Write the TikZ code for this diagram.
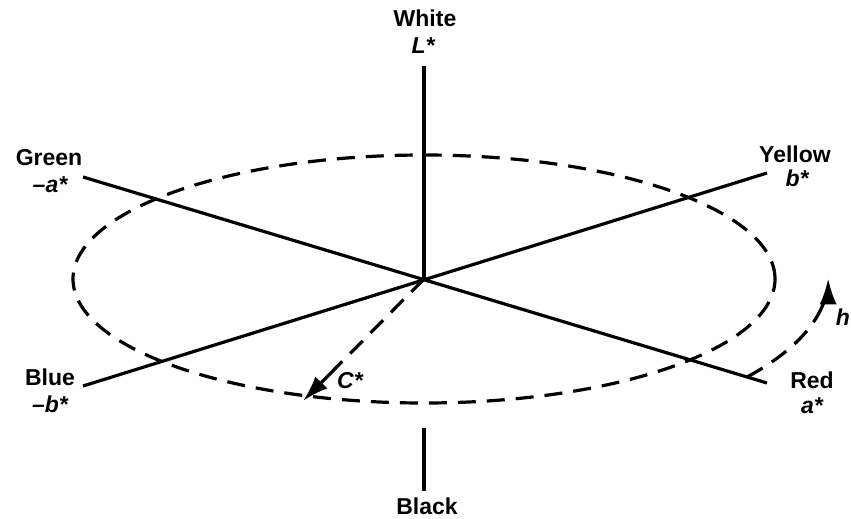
\documentclass[tikz,border=0pt]{standalone}
\usepackage{fontspec}
\setmainfont{Liberation Sans}
\usetikzlibrary{arrows.meta,calc}
\tikzset{
  axis/.style={line width=3.2pt},
  dashline/.style={line width=3.2pt, dash pattern=on 18pt off 11pt},
  lab/.style={font=\fontsize{23}{26}\selectfont\bfseries, inner sep=0pt},
  symb/.style={font=\fontsize{23}{26}\selectfont\bfseries\itshape, inner sep=0pt},
  bigtip/.style={-{Latex[length=26pt,width=17pt]}}
}
\begin{document}
\begin{tikzpicture}[x=1pt,y=1pt]
\useasboundingbox (0,0) rectangle (851,-519);
\fill[white] (0,0) rectangle (851,-519);
% key points
\coordinate (O) at (424,-279);
\coordinate (Wt) at (424,-66);
\coordinate (Bk1) at (424,-428);
\coordinate (Bk2) at (424,-491);
\coordinate (G) at (83,-177);
\coordinate (R) at (767,-383);
\coordinate (Y) at (767,-173);
\coordinate (B) at (83,-386);
\coordinate (Cend) at (303,-401);
\coordinate (Cmid) at ($(O)!0.72!(Cend)$);
\coordinate (Hs) at (747,-377);
% axes
\draw[axis] (Wt) -- (O);
\draw[axis] (Bk1) -- (Bk2);
\draw[axis] (G) -- (R);
\draw[axis] (B) -- (Y);
% dashed ellipse
\draw[dashline] (O) ellipse[x radius=351, y radius=124];
% C* arrow
\draw[dashline] (O) -- (Cmid);
\draw[axis, bigtip] (Cmid) -- (Cend);
% h arrow
\draw[dashline] (Hs) arc[start angle=-37, end angle=-11, x radius=403, y radius=164] coordinate (Hm);
\draw[axis, bigtip] (Hm) arc[start angle=-11, end angle=0, x radius=403, y radius=164];
% labels
\node[lab] (white) at (425,-18) {White};
\node[symb] (Lstar) at (423,-46) {L*};
\node[lab] (green) at (49,-158) {Green};
\node[symb] (astarneg) at (50,-185) {–a*};
\node[lab] (yellow) at (795,-154) {Yellow};
\node[symb] (bstar) at (797,-178) {b*};
\node[lab] (blue) at (50,-377) {Blue};
\node[symb] (bstarneg) at (50,-404) {–b*};
\node[lab] (red) at (812,-380) {Red};
\node[symb] (astar) at (812,-406) {a*};
\node[lab] (black) at (427,-506) {Black};
\node[symb] (cstar) at (350,-381) {C*};
\node[symb] (hlab) at (843,-317) {h};
\end{tikzpicture}
\end{document}
